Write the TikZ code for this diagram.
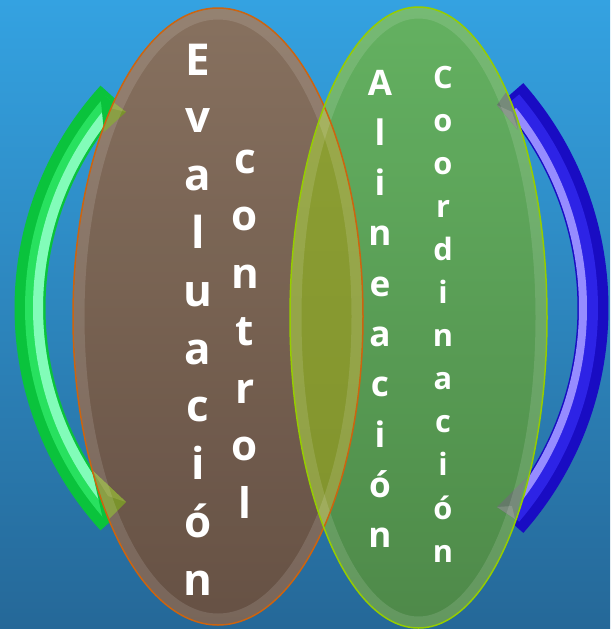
\documentclass[tikz,border=0pt]{standalone}
\usepackage{fontspec}
\setmainfont{Open Sans}
\usetikzlibrary{arrows.meta}

\definecolor{skytop}{RGB}{52,162,225}
\definecolor{skybot}{RGB}{37,104,152}
\definecolor{browntop}{RGB}{145,121,101}
\definecolor{brownbot}{RGB}{110,87,73}
\definecolor{greentop}{RGB}{108,190,104}
\definecolor{greenbot}{RGB}{84,148,78}
\definecolor{olivetop}{RGB}{142,160,52}
\definecolor{olivebot}{RGB}{128,146,44}
\definecolor{rimorange}{RGB}{205,100,15}
\definecolor{rimlime}{RGB}{150,205,0}
\definecolor{arrgreen}{RGB}{10,195,60}
\definecolor{arrgreenmd}{RGB}{40,225,95}
\definecolor{arrgreenlt}{RGB}{130,252,185}
\definecolor{arrblue}{RGB}{25,12,195}
\definecolor{arrbluemd}{RGB}{45,35,230}
\definecolor{arrbluelt}{RGB}{150,140,255}
\definecolor{headolive}{RGB}{122,146,44}
\definecolor{headolivelt}{RGB}{140,160,60}
\definecolor{headgrey}{RGB}{100,122,104}
\definecolor{headgreylt}{RGB}{122,140,124}

\tikzset{
  letter/.style={text=white,anchor=base,inner sep=0pt},
  brownegg/.style={x radius=145,y radius=308.5},
  greenegg/.style={x radius=128.5,y radius=310.5},
}

\begin{document}
\begin{tikzpicture}[x=0.02cm,y=-0.02cm]

    % Background
    \fill[top color=skytop,bottom color=skybot] (0,0) rectangle (610,629);
    \useasboundingbox (0,0) rectangle (610,629);

    % Green arc arrow (left)
    \begin{scope}[shift={(345,308)}]
        \draw[line width=0.62cm,arrgreen] (222.3:315) arc[start angle=222.3,end angle=137.7,radius=315];
        \draw[line width=0.36cm,arrgreenmd] (221.5:311) arc[start angle=221.5,end angle=138.5,radius=311];
        \draw[line width=0.2cm,arrgreenlt] (219:307) arc[start angle=219,end angle=141,radius=307];
    \end{scope}
    \coordinate (gtop) at (100,92);
    \coordinate (gbot) at (92,470);
    \fill[arrgreen] (gtop) -- (126,112) -- (104,132) -- cycle;
    \fill[arrgreen] (gbot) -- (126,502) -- (104,524) -- cycle;

    % Blue arc arrow (right)
    \begin{scope}[shift={(269,308)}]
        \draw[line width=0.62cm,arrblue] (-41.5:324) arc[start angle=-41.5,end angle=41.5,radius=324];
        \draw[line width=0.36cm,arrbluemd] (-40.5:320) arc[start angle=-40.5,end angle=40.5,radius=320];
        \draw[line width=0.16cm,arrbluelt] (-39:314) arc[start angle=-39,end angle=39,radius=314];
    \end{scope}

    % Ellipses
    \fill[top color=browntop,bottom color=brownbot,fill opacity=0.93] (218,316.5) ellipse[brownegg];
    \fill[top color=greentop,bottom color=greenbot,fill opacity=0.93] (418.5,317.5) ellipse[greenegg];
    \begin{scope}
        \clip (218,316.5) ellipse[brownegg];
        \fill[top color=olivetop,bottom color=olivebot] (418.5,317.5) ellipse[greenegg];
    \end{scope}

    % Arrow heads seen through the ellipses
    \begin{scope}
        \clip (218,316.5) ellipse[brownegg];
        \fill[headolive] (gtop) -- (126,112) -- (104,132) -- cycle;
        \fill[headolivelt] (gtop) -- (126,112) -- (110,108) -- cycle;
        \fill[headolive] (gbot) -- (126,502) -- (104,524) -- cycle;
        \fill[headolivelt] (gbot) -- (126,502) -- (108,496) -- cycle;
    \end{scope}
    \begin{scope}
        \clip (418.5,317.5) ellipse[greenegg];
        \fill[headgrey] (497,105) -- (512,84) -- (518,130) -- cycle;
        \fill[headgreylt] (497,105) -- (518,130) -- (512,112) -- cycle;
        \fill[headgrey] (497,507) -- (526,478) -- (515,519) -- cycle;
        \fill[headgreylt] (497,507) -- (515,519) -- (512,506) -- cycle;
    \end{scope}

    % Glass rims
    \draw[line width=0.22cm,white,opacity=0.12] (218,316.5) ellipse[x radius=139,y radius=302.5];
    \draw[line width=0.22cm,white,opacity=0.12] (418.5,317.5) ellipse[x radius=122.5,y radius=304.5];
    \draw[line width=0.03cm,rimorange] (218,316.5) ellipse[brownegg];
    \draw[line width=0.03cm,rimlime] (418.5,317.5) ellipse[greenegg];

    % Vertical words
    \foreach \ch [count=\k] in {E,v,a,l,u,a,c,i,ó,n} {
        \node[letter,font=\bfseries\fontsize{25}{25}\selectfont] (eva\k) at (198,{75+(\k-1)*57.8}) {\ch};
    }
    \foreach \ch [count=\k] in {c,o,n,t,r,o,l} {
        \node[letter,font=\bfseries\fontsize{24}{24}\selectfont] (con\k) at (245,{173+(\k-1)*57.5}) {\ch};
    }
    \foreach \ch [count=\k] in {A,l,i,n,e,a,c,i,ó,n} {
        \node[letter,font=\bfseries\fontsize{20}{20}\selectfont] (ali\k) at (380,{95+(\k-1)*50.3}) {\ch};
    }
    \foreach \ch [count=\k] in {C,o,o,r,d,i,n,a,c,i,ó,n} {
        \node[letter,font=\bfseries\fontsize{17.5}{17.5}\selectfont] (coo\k) at (443,{88+(\k-1)*43.1}) {\ch};
    }

\end{tikzpicture}
\end{document}
